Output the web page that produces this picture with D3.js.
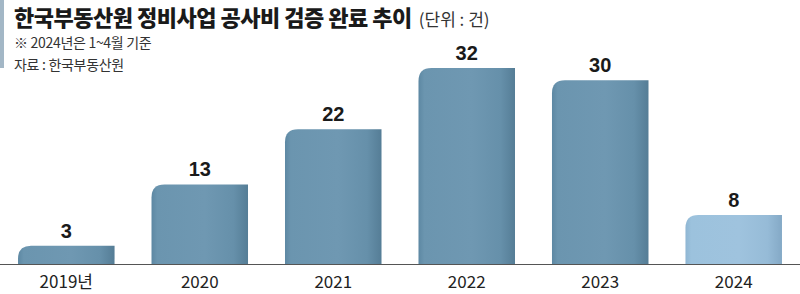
<!DOCTYPE html>
<html>
<head>
<meta charset="utf-8">
<script src="https://cdn.jsdelivr.net/npm/d3@7"></script>
<style>
  body { margin: 0; background: #fff; }
  svg { display: block; }
</style>
</head>
<body>
<div id="chart"></div>
<script>
// data
const years = ["2019", "2020", "2021", "2022", "2023", "2024"];
const tickLabels = ["2019년", "2020", "2021", "2022", "2023", "2024"];
const counts = [3, 13, 22, 32, 30, 8];
const partial = [false, false, false, false, false, true];

const width = 800, height = 294;
const baseY = 264;

const svg = d3.select("#chart").append("svg")
    .attr("width", width)
    .attr("height", height);

const defs = svg.append("defs");
function grad(id, stops) {
    const g = defs.append("linearGradient").attr("id", id)
        .attr("x1", "0%").attr("x2", "100%").attr("y1", "0%").attr("y2", "0%");
    stops.forEach(s => g.append("stop").attr("offset", s[0]).attr("stop-color", s[1]));
}
grad("barDark", [["0%", "#5d88a3"], ["6%", "#6b95af"], ["55%", "#6f98b2"], ["85%", "#6690aa"], ["100%", "#557d96"]]);
grad("barLight", [["0%", "#8fb6d3"], ["6%", "#9cc2dd"], ["55%", "#9fc3de"], ["85%", "#96bbd7"], ["100%", "#84a9c6"]]);

const x = d3.scaleBand()
    .domain(years)
    .range([0, width])
    .paddingInner(0.277)
    .paddingOuter(0.135);

const y = d3.scaleLinear()
    .domain([0, 32])
    .range([baseY, 68]);

// left accent stripe
svg.append("rect")
    .attr("x", 0).attr("y", 0)
    .attr("width", 4).attr("height", 68)
    .attr("fill", "#a3b7c6");

// title
const title = svg.append("text")
    .attr("x", 14).attr("y", 26)
    .style("font-family", "'Noto Sans CJK KR', sans-serif")
    .attr("fill", "#1a1a1a");
title.append("tspan")
    .style("font-size", "22px")
    .style("font-weight", "900")
    .attr("letter-spacing", "-0.5")
    .text("한국부동산원 정비사업 공사비 검증 완료 추이");
title.append("tspan")
    .attr("dx", 7)
    .style("font-size", "17px")
    .style("font-weight", "400")
    .attr("fill", "#333")
    .text("(단위 : 건)");

svg.append("text")
    .attr("x", 14).attr("y", 48)
    .style("font-family", "'Noto Sans CJK KR', sans-serif")
    .style("font-size", "14px")
    .attr("letter-spacing", "-0.3")
    .attr("fill", "#333")
    .text("※ 2024년은 1~4월 기준");

svg.append("text")
    .attr("x", 14).attr("y", 70)
    .style("font-family", "'Noto Sans CJK KR', sans-serif")
    .style("font-size", "14px")
    .attr("letter-spacing", "-0.3")
    .attr("fill", "#333")
    .text("자료 : 한국부동산원");

// bar path with only top-left corner rounded
function barPath(x0, w, top, r) {
    const rr = Math.min(r, (baseY - top), w / 2);
    return `M${x0},${baseY} L${x0},${top + rr} Q${x0},${top} ${x0 + rr},${top} L${x0 + w},${top} L${x0 + w},${baseY} Z`;
}

const data = years.map((yr, i) => ({ year: yr, label: tickLabels[i], value: counts[i], partial: partial[i] }));

svg.selectAll(".bar")
    .data(data)
    .enter().append("path")
    .attr("class", "bar")
    .attr("d", d => barPath(x(d.year), x.bandwidth(), y(d.value), 13))
    .attr("fill", d => d.partial ? "url(#barLight)" : "url(#barDark)");

svg.selectAll(".val")
    .data(data)
    .enter().append("text")
    .attr("class", "val")
    .attr("x", d => x(d.year) + x.bandwidth() / 2)
    .attr("y", d => y(d.value) - 8)
    .attr("text-anchor", "middle")
    .style("font-family", "'Liberation Sans Narrow', 'Liberation Sans', Arial, sans-serif")
    .style("font-size", "20px")
    .style("font-weight", "bold")
    .attr("fill", "#1a1a1a")
    .text(d => d.value);

// baseline
svg.append("line")
    .attr("x1", 0).attr("x2", width)
    .attr("y1", baseY + 0.5).attr("y2", baseY + 0.5)
    .attr("stroke", "#555")
    .attr("stroke-width", 1.2);

svg.selectAll(".tick-label")
    .data(data)
    .enter().append("text")
    .attr("class", "tick-label")
    .attr("x", d => x(d.year) + x.bandwidth() / 2)
    .attr("y", 288)
    .attr("text-anchor", "middle")
    .style("font-family", "'Liberation Sans Narrow', 'Noto Sans CJK KR', sans-serif")
    .style("font-size", "17px")
    .attr("fill", "#222")
    .text(d => d.label);
</script>
</body>
</html>
